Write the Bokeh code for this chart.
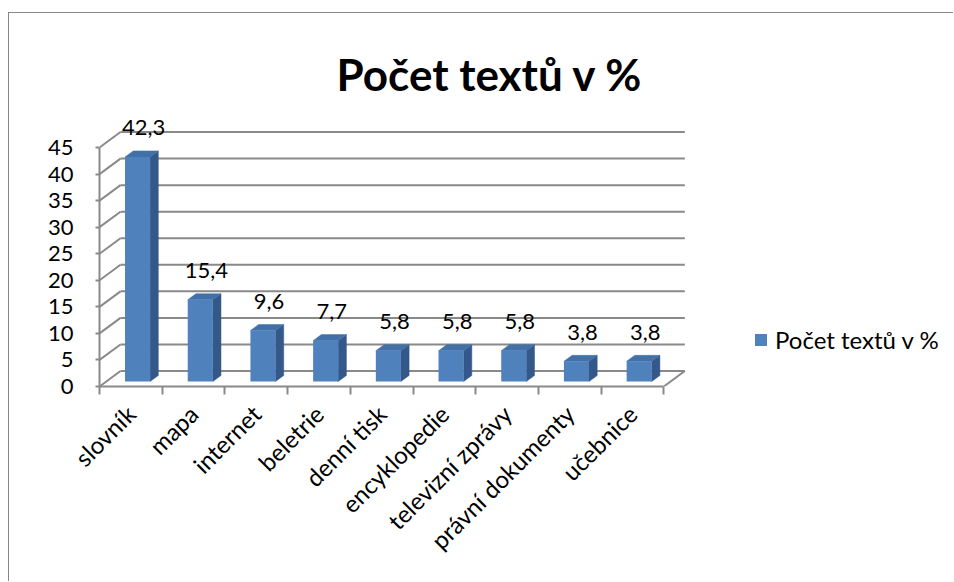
import math
from bokeh.plotting import figure
from bokeh.models import Range1d, FixedTicker, Label, LinearAxis
from bokeh.core.properties import value
from bokeh.embed import file_html
from bokeh.resources import INLINE

# ---------------- data ----------------
categories = ["slovník", "mapa", "internet", "beletrie", "denní tisk",
              "encyklopedie", "televizní zprávy", "právní dokumenty", "učebnice"]
values = [42.3, 15.4, 9.6, 7.7, 5.8, 5.8, 5.8, 3.8, 3.8]
value_labels = ["42,3", "15,4", "9,6", "7,7", "5,8", "5,8", "5,8", "3,8", "3,8"]
y_ticks = [0, 5, 10, 15, 20, 25, 30, 35, 40, 45]
series_name = "Počet textů v %"
chart_title = "Počet textů v %"

# ---------------- layout / style ----------------
W, H = 945, 569
FRAME_LEFT, FRAME_BOTTOM = 90, 373
CAT_PX, VAL_PX = 62.7, 5.31
DX = 21 / CAT_PX          # depth offset in category units
DY = 15.5 / VAL_PX        # depth offset in value units
Z0, Z1 = 0.32, 0.71       # bar front / back depth fractions
BAR_W = 0.40
FONT = "Lato"
GRID = "#898989"
FRONT, SIDE, TOP = "#4F81BD", "#34588A", "#4270A8"

n = len(categories)
x0 = -0.5
x1 = n - 0.5
y_max = y_ticks[-1]

p = figure(width=W, height=H, output_backend="svg", toolbar_location=None,
           x_range=Range1d(x0, x0 + (W - FRAME_LEFT) / CAT_PX),
           y_range=Range1d(0, FRAME_BOTTOM / VAL_PX),
           min_border_left=FRAME_LEFT, min_border_bottom=H - FRAME_BOTTOM,
           min_border_top=0, min_border_right=0,
           x_axis_type=None, y_axis_type=None)
p.outline_line_color = None
p.background_fill_color = "white"
p.border_fill_color = "white"
p.margin = (12, 0, 0, 8)
p.styles = {"border-left": "1px solid #878787", "border-top": "1px solid #878787"}

# ---------------- walls / floor ----------------
p.segment(x0=[x0 + DX] * len(y_ticks), y0=[t + DY for t in y_ticks],
          x1=[x1 + DX] * len(y_ticks), y1=[t + DY for t in y_ticks],
          line_color=GRID, line_width=2)
p.segment(x0=[x0] * len(y_ticks), y0=y_ticks,
          x1=[x0 + DX] * len(y_ticks), y1=[t + DY for t in y_ticks],
          line_color=GRID, line_width=2)
p.segment(x0=[x1], y0=[0], x1=[x1 + DX], y1=[DY], line_color=GRID, line_width=2)

# ---------------- bars ----------------
xs_c = list(range(n))
lefts = [i - BAR_W / 2 + Z0 * DX for i in xs_c]
rights = [l + BAR_W for l in lefts]
dd = Z1 - Z0
side_xs = [[r, r, r + dd * DX, r + dd * DX] for r in rights]
side_ys = [[Z0 * DY, v + Z0 * DY, v + Z1 * DY, Z1 * DY] for v in values]
top_xs = [[l, r, r + dd * DX, l + dd * DX] for l, r in zip(lefts, rights)]
top_ys = [[v + Z0 * DY, v + Z0 * DY, v + Z1 * DY, v + Z1 * DY] for v in values]

p.patches(side_xs, side_ys, fill_color=SIDE, line_color=SIDE, line_width=0.5)
p.patches(top_xs, top_ys, fill_color=TOP, line_color=TOP, line_width=0.5)
p.quad(left=lefts, right=rights, bottom=[Z0 * DY] * n,
       top=[v + Z0 * DY for v in values], fill_color=FRONT, line_color=None,
       legend_label=series_name)

p.text(x=[i + (Z0 + Z1) / 2 * DX for i in xs_c], y=[v + Z1 * DY for v in values],
       text=value_labels, text_font=value(FONT), text_font_size="22px",
       text_color="black", text_align="center", text_baseline="middle",
       x_offset=2, y_offset=-23)

# ---------------- axes ----------------
yaxis = LinearAxis(ticker=FixedTicker(ticks=y_ticks, minor_ticks=[]), bounds=(0, y_max))
yaxis.axis_line_color = GRID
yaxis.axis_line_width = 2
yaxis.major_tick_line_color = GRID
yaxis.major_tick_line_width = 2
yaxis.major_tick_out = 4
yaxis.major_tick_in = 0
yaxis.minor_tick_line_color = None
yaxis.major_label_standoff = 22
yaxis.major_label_text_font = FONT
yaxis.major_label_text_font_size = "22px"
yaxis.major_label_text_color = "black"
p.add_layout(yaxis, "left")

xaxis = LinearAxis(ticker=FixedTicker(ticks=xs_c,
                                      minor_ticks=[i - 0.5 for i in range(n + 1)]),
                   bounds=(x0, x1))
xaxis.major_label_overrides = {i: c for i, c in zip(xs_c, categories)}
xaxis.axis_line_color = GRID
xaxis.axis_line_width = 2
xaxis.major_tick_line_color = None
xaxis.major_tick_out = 0
xaxis.major_tick_in = 0
xaxis.minor_tick_line_color = GRID
xaxis.minor_tick_line_width = 2
xaxis.minor_tick_out = 8
xaxis.minor_tick_in = 0
xaxis.major_label_orientation = math.pi / 4
xaxis.major_label_standoff = 15
xaxis.major_label_text_font = FONT
xaxis.major_label_text_font_size = "24px"
xaxis.major_label_text_color = "black"
p.add_layout(xaxis, "below")

# ---------------- legend ----------------
leg = p.legend[0]
leg.location = (654, 32)
leg.border_line_color = None
leg.background_fill_alpha = 0
leg.padding = 0
leg.margin = 0
leg.glyph_width = 15
leg.glyph_height = 15
leg.label_standoff = 7
leg.label_text_font = FONT
leg.label_text_font_size = "24px"
leg.label_text_color = "black"

# ---------------- title ----------------
p.add_layout(Label(x=479.5, y=59, x_units="canvas", y_units="canvas", text=chart_title,
                   text_align="center", text_baseline="alphabetic",
                   text_font=FONT, text_font_size="44px", text_font_style="bold",
                   text_color="black"))

open("out.html", "w").write(file_html(p, INLINE))
